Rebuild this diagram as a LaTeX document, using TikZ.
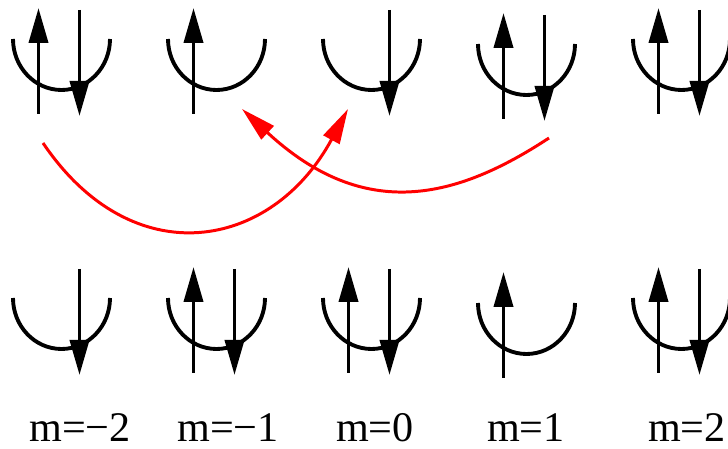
\documentclass[tikz,border=0pt]{standalone}
\usepackage{fontspec}
\setmainfont{Liberation Serif}
\usepackage{tikz}
\usetikzlibrary{arrows.meta}

\begin{document}
\begin{tikzpicture}[x=0.02cm,y=0.02cm,
  cup/.style={line width=2.2pt},
  spin/.style={line width=2.2pt,-{Triangle[length=0.7cm,width=0.38cm]}},
  hop/.style={red,line width=1.7pt,-{Triangle[length=0.7cm,width=0.36cm]}},
  every node/.style={font=\fontsize{24}{28}\selectfont}]
  \useasboundingbox (0,0) rectangle (728,449);
  % orbitals: column, top of cup, spin up?, spin down?
  \foreach \i/\ytop/\up/\dn in {1/410/1/1,2/410/1/0,3/410/0/1,4/405/1/1,5/410/1/1,
                                1/151/0/1,2/151/1/1,3/151/1/1,4/146/1/0,5/151/1/1} {
    \pgfmathsetmacro\cx{61.5+155*(\i-1)}
    \draw[cup] (\cx-48.5,\ytop) arc[start angle=180,end angle=360,x radius=48.5,y radius=51];
    \ifnum\up=1 \draw[spin] (\cx-23,\ytop-75) -- (\cx-23,\ytop+31); \fi
    \ifnum\dn=1 \draw[spin] (\cx+18,\ytop+29) -- (\cx+18,\ytop-77); \fi
  }
  \foreach \x/\lbl [count=\k] in {80/m=−2,228/m=−1,375/m=0,526/m=1,687/m=2}
    \node[anchor=base,inner sep=0pt] (lbl\k) at (\x,7) {\lbl};
  % electron hops
  \coordinate (fromA) at (43,306);
  \coordinate (toA) at (348,340);
  \coordinate (fromB) at (549,311);
  \coordinate (toB) at (242,340);
  \draw[hop] (fromA) .. controls (133,173) and (272,199) .. (toA);
  \draw[hop] (fromB) .. controls (457,250.5) and (365,226) .. (toB);
\end{tikzpicture}
\end{document}
